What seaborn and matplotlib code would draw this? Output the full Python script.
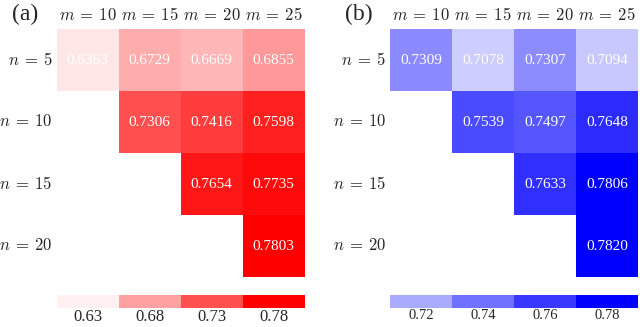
import numpy as np
import matplotlib
matplotlib.use("Agg")
import matplotlib.pyplot as plt
import seaborn as sns
from matplotlib.colors import LinearSegmentedColormap

# data
m_labels = [r"$m\:=\:10$", r"$m\:=\:15$", r"$m\:=\:20$", r"$m\:=\:25$"]
n_labels = [r"$n\:=\:5$", r"$n\:=\:10$", r"$n\:=\:15$", r"$n\:=\:20$"]

red_vals = np.array([
    [0.6363, 0.6729, 0.6669, 0.6855],
    [np.nan, 0.7306, 0.7416, 0.7598],
    [np.nan, np.nan, 0.7654, 0.7735],
    [np.nan, np.nan, np.nan, 0.7803],
])
blue_vals = np.array([
    [0.7309, 0.7078, 0.7307, 0.7094],
    [np.nan, 0.7539, 0.7497, 0.7648],
    [np.nan, np.nan, 0.7633, 0.7806],
    [np.nan, np.nan, np.nan, 0.7820],
])

red_ticks = [0.63, 0.68, 0.73, 0.78]
blue_ticks = [0.72, 0.74, 0.76, 0.78]

sns.set_style("white")
plt.rcParams["font.family"] = ["Liberation Serif", "DejaVu Serif"]
plt.rcParams["mathtext.fontset"] = "cm"

red_cmap = LinearSegmentedColormap.from_list("wr", ["#ffffff", "#ff0000"])
blue_cmap = LinearSegmentedColormap.from_list("wb", ["#ffffff", "#0000ff"])

fig = plt.figure(figsize=(6.4, 3.27), dpi=100)


def panel(vals, ticks, cmap, vmin, vmax, left, tick_fs, tag, tag_x):
    ax = fig.add_axes([left, 0.153, 0.3875, 0.757])
    sns.heatmap(vals, ax=ax, cmap=cmap, vmin=vmin, vmax=vmax, cbar=False,
                mask=np.isnan(vals), annot=True, fmt=".4f",
                annot_kws={"color": "white", "fontsize": 11},
                xticklabels=m_labels, yticklabels=n_labels)
    ax.xaxis.tick_top()
    ax.tick_params(length=0, labelsize=12)
    ax.tick_params(axis="x", pad=4)
    ax.tick_params(axis="y", pad=3)
    ax.set_yticklabels(n_labels, rotation=0)
    ax.set_xticklabels(m_labels, rotation=0)

    # discrete colour bar under the heatmap
    cax = fig.add_axes([left, 1 - 308 / 327, 0.3875, 13 / 327])
    sns.heatmap(np.array([ticks]), ax=cax, cmap=cmap, vmin=vmin, vmax=vmax,
                cbar=False, xticklabels=[f"{t:.2f}" for t in ticks],
                yticklabels=False)
    cax.tick_params(length=0, labelsize=tick_fs, pad=1)
    cax.set_xticklabels([f"{t:.2f}" for t in ticks], rotation=0)

    fig.text(tag_x, 1 - 14 / 327, tag, fontsize=17, ha="center", va="center")


panel(red_vals, red_ticks, red_cmap, 0.621, 0.78, 56.5 / 640, 12, "(a)", 25 / 640)
panel(blue_vals, blue_ticks, blue_cmap, 0.69, 0.78, 390 / 640, 10.5, "(b)", 359 / 640)

fig.savefig("out.png", dpi=100)
